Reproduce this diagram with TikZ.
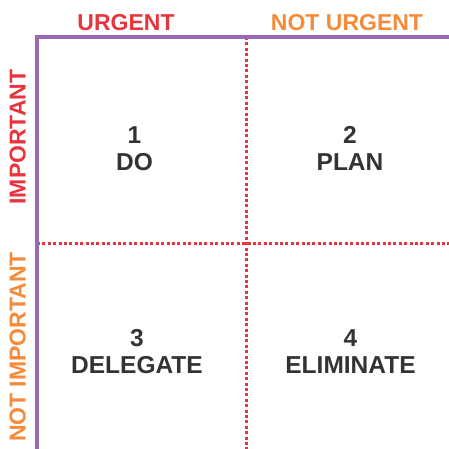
\documentclass[tikz,border=0pt]{standalone}
\usepackage{fontspec}
\setmainfont{Liberation Sans}
\definecolor{urgred}{HTML}{E8353D}
\definecolor{noturgorange}{HTML}{F58B3A}
\definecolor{framepurple}{HTML}{9B68B4}
\definecolor{celltext}{HTML}{333333}
\begin{document}
\begin{tikzpicture}[x=1pt,y=-1pt,
    frame/.style={framepurple, line width=3.1pt},
    divider/.style={urgred, line width=3pt, dash pattern=on 3pt off 2.4pt},
    head/.style={font=\fontsize{23}{27}\selectfont\bfseries, inner sep=0pt, anchor=base},
    cell/.style={font=\fontsize{24.5}{27.5}\selectfont\bfseries, text=celltext, align=center, inner sep=0pt}]
    \useasboundingbox (0,0) rectangle (449,449);
    \coordinate (tl) at (37,37);
    \coordinate (tr) at (449,37);
    \coordinate (bl) at (37,449);
    \coordinate (mt) at (246,37);
    \coordinate (mb) at (246,449);
    \coordinate (ml) at (37,243);
    \coordinate (mr) at (449,243);
    \draw[divider] (mt) -- (mb);
    \draw[divider] (ml) -- (mr);
    \draw[frame] (bl) -- (tl) -- (tr);
    \node[head, text=urgred] (urgent) at (126,30.5) {URGENT};
    \node[head, text=noturgorange] (noturgent) at (347,31) {NOT URGENT};
    \node[head, text=urgred, rotate=90] (important) at (25.5,137) {IMPORTANT};
    \node[head, text=noturgorange, rotate=90] (notimportant) at (25.5,347) {NOT IMPORTANT};
    \node[cell] (do) at (134.5,148.5) {1\\DO};
    \node[cell] (plan) at (350,148.5) {2\\PLAN};
    \node[cell] (delegate) at (137,351.5) {3\\DELEGATE};
    \node[cell] (eliminate) at (350.5,351.5) {4\\ELIMINATE};
\end{tikzpicture}
\end{document}
